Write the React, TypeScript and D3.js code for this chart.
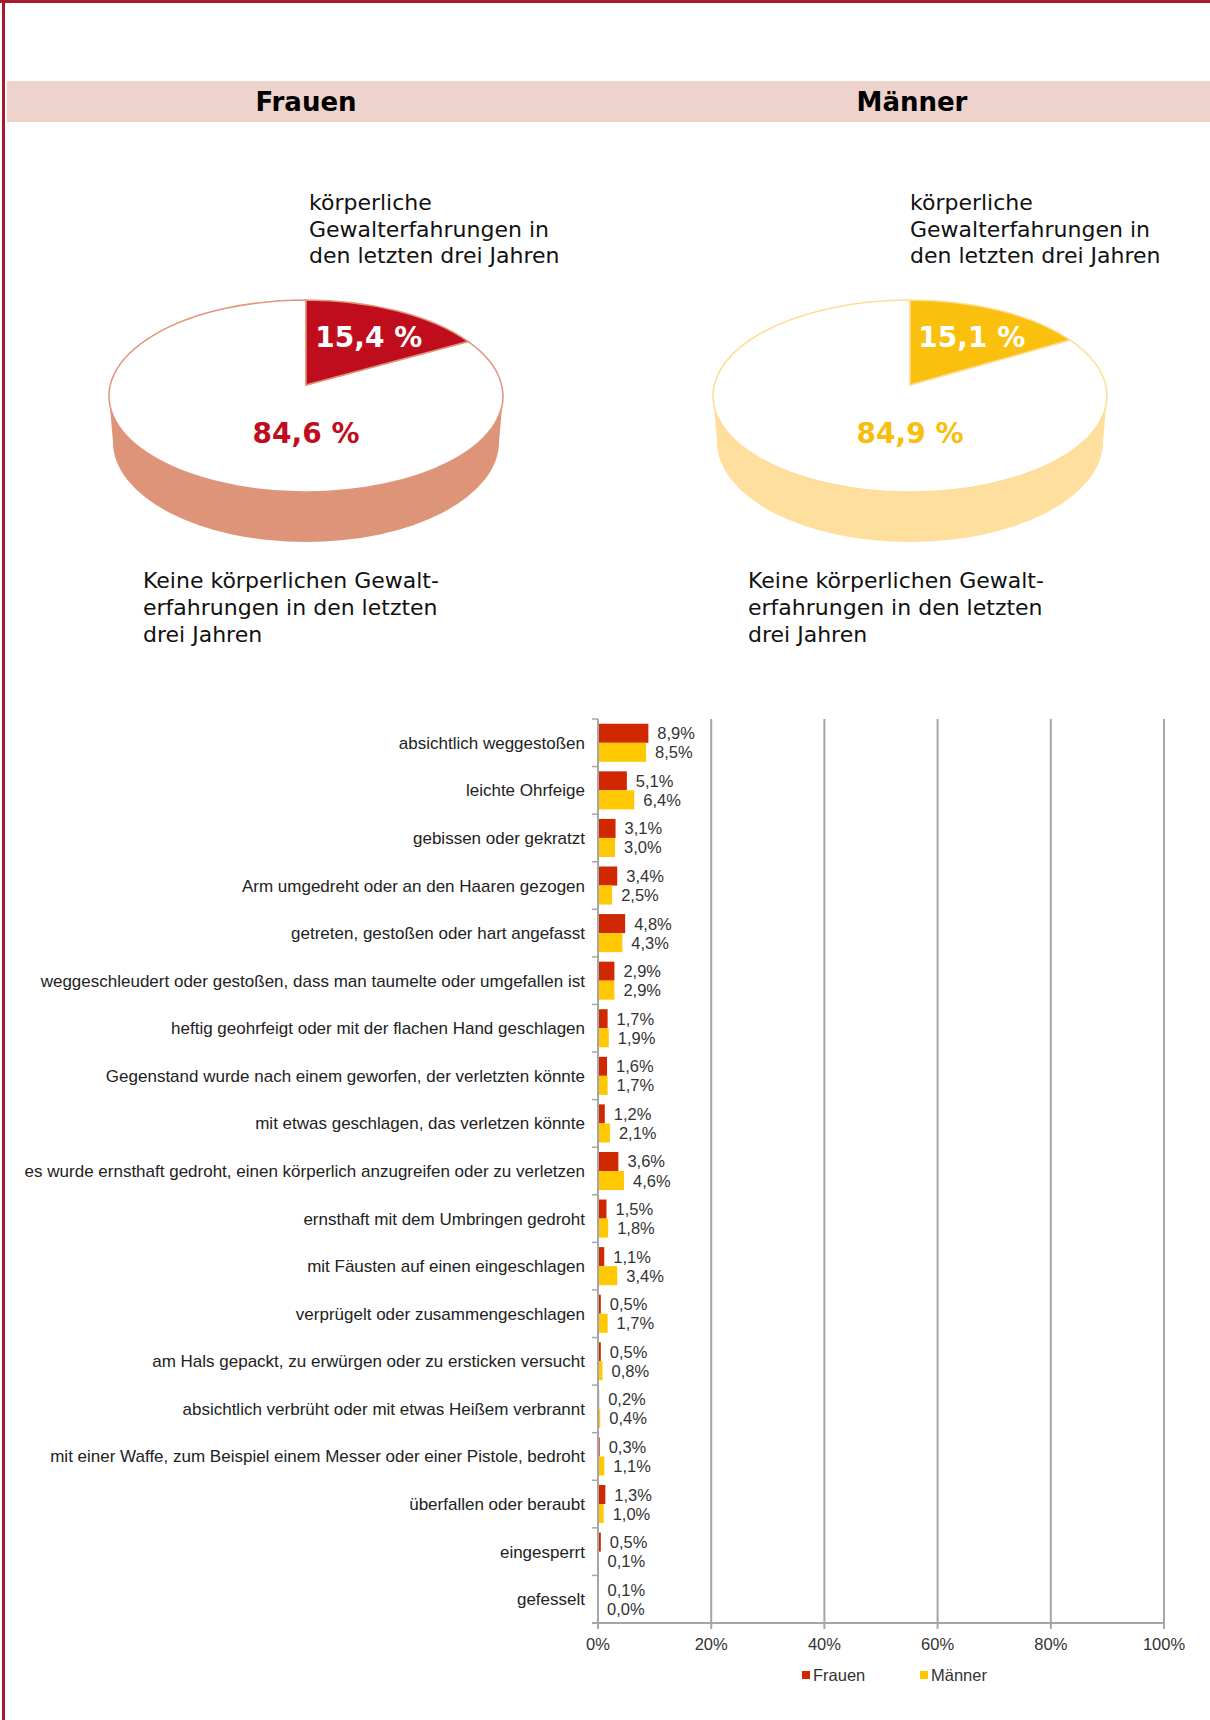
import React from "react";
import * as d3 from "d3";

// pie data (share in %)
const pieGroups = ["Frauen", "Männer"];
const pieViolence = [15.4, 15.1];
const pieNone = [84.6, 84.9];
const pieSliceColors = ["#C00D1E", "#FAC00E"];
const pieSideColors = ["#DE9479", "#FFDF9E"];
const pieEdgeColors = ["#E0967A", "#FFDC9A"];
const pieTextColors = ["#C00D1E", "#F7BE0E"];

const labelTop = ["körperliche", "Gewalterfahrungen in", "den letzten drei Jahren"];
const labelBottom = ["Keine körperlichen Gewalt-", "erfahrungen in den letzten", "drei Jahren"];

// bar data
const categories = [
  "absichtlich weggestoßen",
  "leichte Ohrfeige",
  "gebissen oder gekratzt",
  "Arm umgedreht oder an den Haaren gezogen",
  "getreten, gestoßen oder hart angefasst",
  "weggeschleudert oder gestoßen, dass man taumelte oder umgefallen ist",
  "heftig geohrfeigt oder mit der flachen Hand geschlagen",
  "Gegenstand wurde nach einem geworfen, der verletzten könnte",
  "mit etwas geschlagen, das verletzen könnte",
  "es wurde ernsthaft gedroht, einen körperlich anzugreifen oder zu verletzen",
  "ernsthaft mit dem Umbringen gedroht",
  "mit Fäusten auf einen eingeschlagen",
  "verprügelt oder zusammengeschlagen",
  "am Hals gepackt, zu erwürgen oder zu ersticken versucht",
  "absichtlich verbrüht oder mit etwas Heißem verbrannt",
  "mit einer Waffe, zum Beispiel einem Messer oder einer Pistole, bedroht",
  "überfallen oder beraubt",
  "eingesperrt",
  "gefesselt",
];
const frauen = [8.9, 5.1, 3.1, 3.4, 4.8, 2.9, 1.7, 1.6, 1.2, 3.6, 1.5, 1.1, 0.5, 0.5, 0.2, 0.3, 1.3, 0.5, 0.1];
const maenner = [8.5, 6.4, 3.0, 2.5, 4.3, 2.9, 1.9, 1.7, 2.1, 4.6, 1.8, 3.4, 1.7, 0.8, 0.4, 1.1, 1.0, 0.1, 0.0];
const series = ["Frauen", "Männer"];
const seriesColors = ["#D02800", "#FFC800"];
const xTicks = [0, 20, 40, 60, 80, 100];

const W = 1210;
const H = 1720;
const gray = "#A6A6A6";
const fmt = (v: number) => v.toFixed(1).replace(".", ",") + "%";

function Pie3D({ idx, cx }: { idx: number; cx: number }) {
  const cy = 396;
  const rx = 197;
  const ry = 96;
  const depth = 46;
  const rx2 = 193;
  const ry2 = 100;
  const apex: [number, number] = [cx, cy - 11];
  const pt = (a: number): [number, number] => [cx + rx * Math.sin(a), cy - ry * Math.cos(a)];

  const arcs = d3.pie<number>().sort(null)([pieViolence[idx], pieNone[idx]]);
  const slicePath = (a0: number, a1: number) => {
    const p0 = pt(a0);
    const p1 = pt(a1);
    const large = a1 - a0 > Math.PI ? 1 : 0;
    return `M${apex[0]},${apex[1]}L${p0[0]},${p0[1]}A${rx},${ry} 0 ${large} 1 ${p1[0]},${p1[1]}Z`;
  };
  const side =
    `M${cx - rx},${cy}A${rx},${ry} 0 0 0 ${cx + rx},${cy}` +
    `L${cx + rx2},${cy + depth}A${rx2},${ry2} 0 0 1 ${cx - rx2},${cy + depth}Z`;

  const big = arcs[1];
  const small = arcs[0];
  const mid = (small.startAngle + small.endAngle) / 2;
  return (
    <g>
      <path d={side} fill={pieSideColors[idx]} />
      <path d={slicePath(big.startAngle, big.endAngle)} fill="#fff" stroke={pieEdgeColors[idx]} strokeWidth={1.5} />
      <path d={slicePath(small.startAngle, small.endAngle)} fill={pieSliceColors[idx]} stroke={pieEdgeColors[idx]} strokeWidth={1.5} />
      <text
        x={cx + rx * 0.62 * Math.sin(mid) + 6}
        y={cy - ry * 0.62 * Math.cos(mid) + 4}
        textAnchor="middle"
        fill="#fff"
        fontWeight="bold"
        fontSize={28}
        fontFamily="DejaVu Sans"
      >
        {pieViolence[idx].toFixed(1).replace(".", ",")} %
      </text>
      <text x={cx} y={cy + 47} textAnchor="middle" fill={pieTextColors[idx]} fontWeight="bold" fontSize={28} fontFamily="DejaVu Sans">
        {pieNone[idx].toFixed(1).replace(".", ",")} %
      </text>
    </g>
  );
}

export default function App() {
  const x = d3.scaleLinear().domain([0, 100]).range([598, 1164]);
  const y = d3.scaleBand<string>().domain(categories).range([719, 1623]);
  const sub = d3.scaleBand<string>().domain(series).range([0, y.bandwidth()]).paddingOuter(0.25);
  const values = [frauen, maenner];
  const pieCx = [306, 910];
  const topLabelX = [309, 910];
  const bottomLabelX = [143, 748];
  const headerX = [306, 912];

  return (
    <svg width={W} height={H} style={{ position: "absolute", left: 0, top: 0 }}>
      <rect x={0} y={0} width={W} height={H} fill="#fff" />
      {/* frame */}
      <rect x={0} y={0} width={W} height={3} fill="#A8192E" />
      <rect x={2} y={0} width={3} height={H} fill="#A8192E" />

      {/* header band */}
      <rect x={7} y={81} width={W - 7} height={41} fill="#EDD3CB" />
      {pieGroups.map((g, i) => (
        <text key={g} x={headerX[i]} y={111} textAnchor="middle" fontWeight="bold" fontSize={26} fontFamily="DejaVu Sans" fill="#000">
          {g}
        </text>
      ))}

      {pieGroups.map((g, i) => (
        <g key={g}>
          <text fontSize={22} fontFamily="DejaVu Sans" fill="#111">
            {labelTop.map((l, j) => (
              <tspan key={j} x={topLabelX[i]} y={210 + j * 26.7}>
                {l}
              </tspan>
            ))}
          </text>
          <Pie3D idx={i} cx={pieCx[i]} />
          <text fontSize={22} fontFamily="DejaVu Sans" fill="#111">
            {labelBottom.map((l, j) => (
              <tspan key={j} x={bottomLabelX[i]} y={588 + j * 26.8}>
                {l}
              </tspan>
            ))}
          </text>
        </g>
      ))}

      {/* bar chart */}
      <g fontFamily="Liberation Sans, Arial, sans-serif">
        {xTicks.slice(1).map((t) => (
          <line key={t} x1={x(t)} x2={x(t)} y1={719} y2={1623} stroke={gray} strokeWidth={2} />
        ))}
        {categories.map((c, i) => (
          <g key={c}>
            {series.map((s, k) => {
              const v = values[k][i];
              const by = (y(c) as number) + (sub(s) as number);
              return (
                <g key={s}>
                  <rect x={x(0)} y={by} width={x(v) - x(0)} height={sub.bandwidth()} fill={seriesColors[k]} />
                  <text x={x(v) + 9} y={by + sub.bandwidth() / 2 + 6} fontSize={16.5} fill="#333">
                    {fmt(v)}
                  </text>
                </g>
              );
            })}
            <text x={585} y={(y(c) as number) + y.bandwidth() / 2 + 6} textAnchor="end" fontSize={17} fill="#222">
              {c}
            </text>
          </g>
        ))}
        {/* axes */}
        <line x1={x(0)} x2={x(0)} y1={719} y2={1623} stroke={gray} strokeWidth={2} />
        {categories.map((c) => (
          <line key={c} x1={592} x2={x(0)} y1={y(c) as number} y2={y(c) as number} stroke={gray} strokeWidth={1.5} />
        ))}
        <line x1={592} x2={x(100)} y1={1623} y2={1623} stroke={gray} strokeWidth={2} />
        {xTicks.map((t) => (
          <g key={t}>
            <line x1={x(t)} x2={x(t)} y1={1623} y2={1629} stroke={gray} strokeWidth={2} />
            <text x={x(t)} y={1650} textAnchor="middle" fontSize={16.5} fill="#333">
              {t}%
            </text>
          </g>
        ))}
        {/* legend */}
        {series.map((s, k) => (
          <g key={s} transform={`translate(${k === 0 ? 802 : 920},1675)`}>
            <rect x={0} y={-4} width={8} height={8} fill={seriesColors[k]} />
            <text x={11} y={6} fontSize={16.5} fill="#333">
              {s}
            </text>
          </g>
        ))}
      </g>
    </svg>
  );
}
